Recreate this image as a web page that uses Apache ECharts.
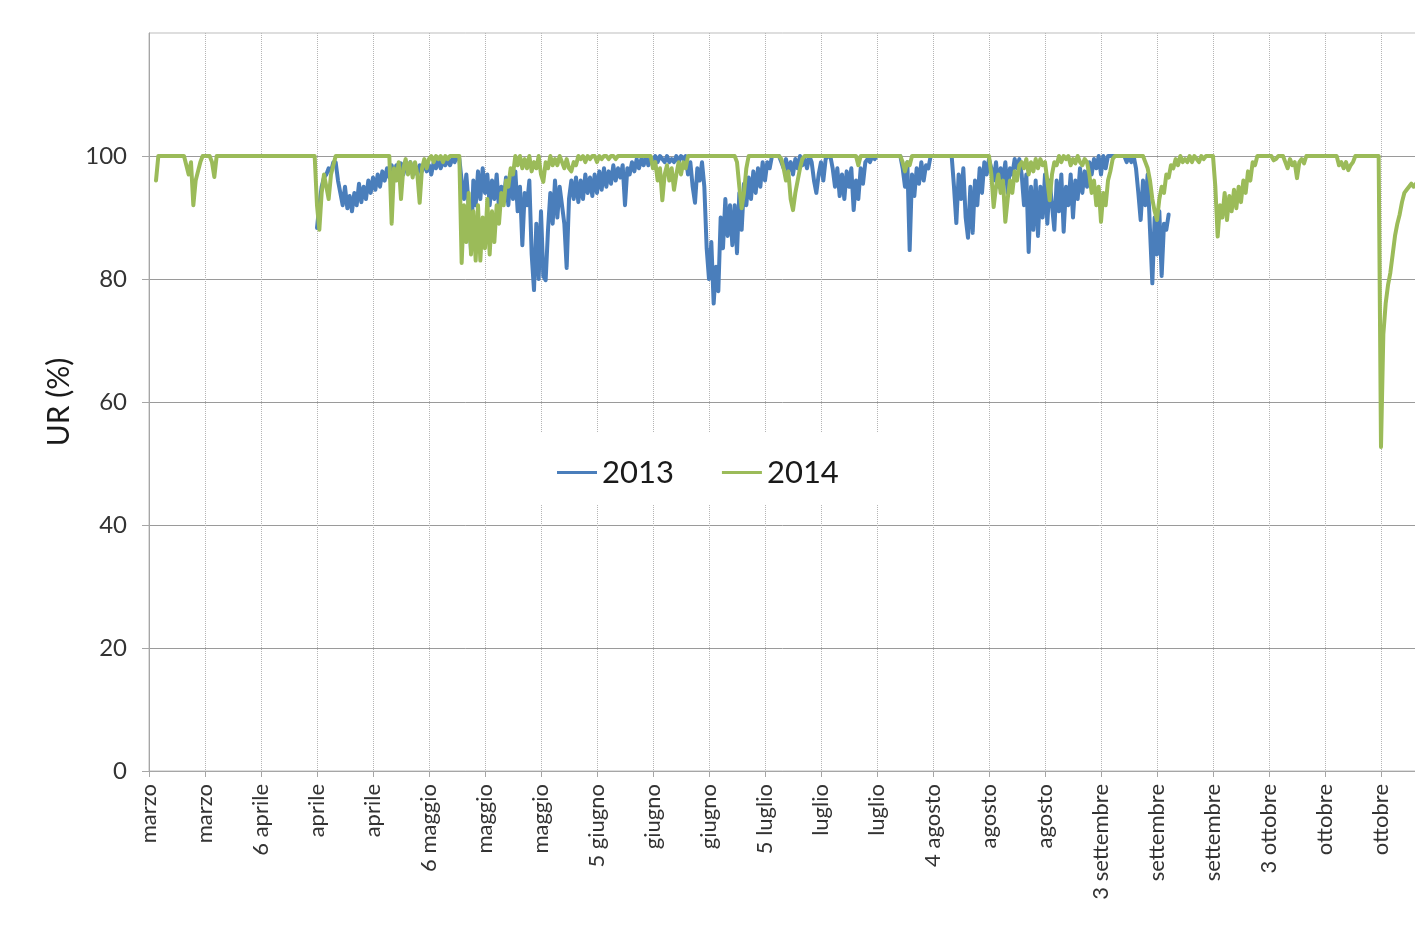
<!DOCTYPE html>
<html>
<head>
<meta charset="utf-8">
<script src="https://cdn.jsdelivr.net/npm/echarts@6/dist/echarts.min.js"></script>
<style>
  html, body { margin: 0; padding: 0; background: #fff; }
  #chart { width: 1415px; height: 931px; }
</style>
</head>
<body>
<div id="chart"></div>
<script>
// Relative humidity (UR %), one reading every 6 hours; day 0 = first tick.
const STEP_DAYS = 0.25;
const TICK_DAYS = 6;

const tickLabels = [
  'marzo', 'marzo', '6 aprile', 'aprile', 'aprile', '6 maggio', 'maggio', 'maggio',
  '5 giugno', 'giugno', 'giugno', '5 luglio', 'luglio', 'luglio', '4 agosto', 'agosto',
  'agosto', '3 settembre', 'settembre', 'settembre', '3 ottobre', 'ottobre', 'ottobre', 'ottobre'
];

// 2013: first reading on day 18; each row holds 6 days
const start2013 = 18;
const ur2013 = [
  88.3, 92, 95, 96.5, 97, 98, 97.5, 99, 99, 96, 94, 92, 95, 91.5, 93.5, 91, 94, 92, 95.5, 92.5, 95, 93, 96, 94,
  96.5, 94.5, 97, 95, 97.5, 96, 98, 96.5, 98.5, 97, 98.5, 97.5, 98.8, 97, 98.5, 97.5, 99, 97.5, 98.5, 97, 98.5, 97.5, 99, 97.5,
  98.5, 97, 99, 98, 99.5, 98, 99, 98.5, 99.5, 98.5, 99.5, 99, 100, 99.5, 96, 93, 97, 92, 84.7, 96, 92, 97.5, 93, 98,
  94, 97, 92, 96, 93, 97, 91.5, 95, 92.5, 96.5, 92, 97, 93, 97.5, 91, 95, 85.5, 94, 92, 96, 84, 78.2, 89, 80,
  91, 80.5, 79.8, 88, 94, 89, 96, 90, 95, 92, 89, 81.8, 93, 96, 93, 96.5, 92.5, 96, 93, 97, 94, 96.5, 93.5, 97,
  94, 97.5, 94.5, 98, 95, 97.5, 95.5, 98.5, 96, 98, 96.5, 98.5, 92, 98, 97, 99, 97.5, 99.5, 98, 99.5, 98.5, 100, 98.5, 99.5,
  99, 100, 99, 100, 99.5, 99, 100, 99, 99.5, 99, 100, 99, 100, 99.5, 100, 97, 99, 95, 92.4, 98, 96, 99, 95, 85,
  80, 86, 76, 82, 78, 90, 85, 93, 87, 92, 85.5, 92, 84.2, 94, 88, 95.5, 92, 96.5, 93, 97.5, 94, 98, 95, 99,
  96, 99, 98, 100, 100, 100, 100, 99, 98, 99.5, 97.5, 99, 97, 99.5, 98, 100, 98.5, 99.5, 98, 100, 99, 96, 94, 97,
  99, 96, 99.5, 100, 100, 98, 95, 98, 93.5, 97, 93, 97.5, 95, 98, 91.2, 96, 93, 98, 95.5, 99, 99.5, 99, 100, 99.5,
  100, 100, 100, 100, 100, 100, 100, 100, 100, 100, 100, 98, 95, 99, 84.7, 97, 93.5, 98, 95.5, 99, 96, 98.5, 98, 100,
  100, 100, 100, 100, 100, 100, 100, 100, 100, 95, 89.1, 97, 93, 98, 90, 86.7, 95, 87.5, 96, 92, 98, 94, 99, 97,
  99.5, 98, 96, 99, 95, 98, 96, 99, 94, 98, 97, 99.5, 98, 99.5, 97, 92, 97, 84.4, 95, 88, 96, 87, 95, 90,
  97, 89, 96, 92, 88, 96, 91, 97, 87.7, 95, 92, 97, 90, 96, 93, 98, 94, 97.5, 95, 99, 97, 99.5, 98, 100,
  97, 100, 98, 100, 100, 100, 100, 100, 100, 100, 100, 99, 100, 99, 100, 98, 94, 89.6, 96, 92, 97, 88, 79.3, 90,
  84, 91, 80.5, 89, 88, 90.5
];

// 2014: first reading on day 0; each row holds 6 days
const start2014 = 0;
const ur2014 = [
  null, null, null, 96, 100, 100, 100, 100, 100, 100, 100, 100, 100, 100, 100, 100, 98.5, 97, 99, 92, 96, 97.5, 99, 100,
  100, 100, 100, 99, 96.6, 100, 100, 100, 100, 100, 100, 100, 100, 100, 100, 100, 100, 100, 100, 100, 100, 100, 100, 100,
  100, 100, 100, 100, 100, 100, 100, 100, 100, 100, 100, 100, 100, 100, 100, 100, 100, 100, 100, 100, 100, 100, 100, 100,
  92, 88, 94, 97, 95, 93, 97, 98.5, 100, 100, 100, 100, 100, 100, 100, 100, 100, 100, 100, 100, 100, 100, 100, 100,
  100, 100, 100, 100, 100, 100, 100, 100, 89, 98, 96, 99, 93, 98, 99.5, 97, 99, 96.5, 99, 97, 92.4, 98, 99.5, 98,
  99.5, 100, 99, 100, 99.5, 100, 99, 100, 99.5, 100, 100, 100, 100, 100, 82.6, 92, 86, 94, 84, 91, 83, 92, 83, 90,
  85, 93, 84, 91, 86, 92, 89, 94, 92, 96, 95, 98, 97, 100, 98.5, 100, 98, 99.5, 98, 100, 97.5, 99, 98, 100,
  97, 95.8, 99, 98, 100, 98.5, 99.5, 98.5, 100, 99, 98, 99.5, 98, 97.5, 99, 98.5, 100, 99.5, 100, 99, 100, 99.5, 100, 100,
  99, 100, 99.5, 100, 100, 99.5, 100, 100, 99.5, 100, 100, 100, 100, 100, 100, 100, 100, 100, 100, 100, 100, 100, 100, 100,
  98, 99, 96, 98, 92.8, 97, 98.5, 96, 98, 94.5, 97, 99, 97, 99, 98, 100, 100, 100, 100, 100, 100, 100, 100, 100,
  100, 100, 100, 100, 100, 100, 100, 100, 100, 100, 100, 100, 99, 95, 91.5, 94, 98, 100, 100, 100, 100, 100, 100, 100,
  100, 100, 100, 100, 100, 100, 100, 99.5, 98, 96, 97.5, 93, 91.2, 94, 96, 98, 99.5, 100, 100, 100, 100, 100, 100, 100,
  100, 100, 100, 100, 100, 100, 100, 100, 100, 100, 100, 100, 100, 100, 100, 100, 98.5, 100, 100, 100, 100, 100, 100, 100,
  100, 100, 100, 100, 100, 100, 100, 100, 100, 100, 100, 99, 97.5, 99, 98.5, 100, 100, 100, 100, 100, 100, 100, 100, 100,
  100, 100, 100, 100, 100, 100, 100, 100, 100, 100, 100, 100, 100, 100, 100, 100, 100, 100, 100, 100, 100, 100, 100, 100,
  100, 97, 91.7, 95, 97, 94, 96, 89.3, 93, 96, 94, 97.5, 96, 98.5, 99, 98, 99.5, 97, 99, 97.5, 99.5, 98, 99.5, 98.5,
  99, 96, 92.8, 97, 99, 98.5, 100, 99, 100, 99.5, 100, 98.5, 99.5, 98.8, 100, 99, 98.5, 99.5, 99, 97, 94, 96, 92, 95,
  89.3, 94, 92, 96, 97.5, 99.5, 100, 100, 100, 100, 100, 100, 100, 100, 100, 100, 100, 100, 100, 99, 98, 96, 93, 91,
  89.6, 93, 95, 94, 97, 96.5, 98.5, 98, 99.5, 98.5, 100, 99, 99.5, 99, 100, 99, 100, 99.5, 99, 100, 99.5, 100, 100, 100,
  100, 95, 86.9, 92, 90, 94, 89.6, 93.5, 91, 94.5, 91.5, 95, 92.5, 96, 94, 97.5, 96, 99, 98.5, 100, 100, 100, 100, 100,
  100, 100, 99.3, 99.5, 100, 100, 100, 99, 98, 99.5, 98.5, 99, 96.4, 99, 99.5, 98.8, 100, 100, 100, 100, 100, 100, 100, 100,
  100, 100, 100, 100, 100, 100, 98.5, 99, 98, 99, 97.7, 98.5, 99, 100, 100, 100, 100, 100, 100, 100, 100, 100, 100, 100,
  52.7, 71, 76, 79, 81, 84, 87, 89, 90.5, 92.5, 94, 94.5, 95, 95.5, 95, 95.5
];

const yTicks = [0, 20, 40, 60, 80, 100];

function toPairs(startDay, values) {
  return values.map((v, i) => [startDay + i * STEP_DAYS, v]);
}

const BLUE = '#4a7ebb';
const GREEN = '#9bbb59';

const chart = echarts.init(document.getElementById('chart'), null, { renderer: 'canvas' });

chart.setOption({
  animation: false,
  backgroundColor: '#ffffff',
  textStyle: { fontFamily: 'Lato, "Open Sans", sans-serif' },
  grid: {
    left: 149, top: 33, width: 1344, bottom: 160,
    outerBoundsMode: 'none',
    containLabel: false,
    show: true, borderColor: '#bdbdbd', borderWidth: 1
  },
  legend: {
    data: ['2013', '2014'],
    left: 537, top: 433,
    padding: [24, 44, 16, 20],
    backgroundColor: '#ffffff',
    icon: 'rect',
    itemWidth: 40, itemHeight: 3,
    itemGap: 48,
    textStyle: { fontSize: 31, color: '#1a1a1a', fontFamily: 'Lato' }
  },
  xAxis: {
    type: 'value',
    min: 0, max: tickLabels.length * TICK_DAYS, interval: TICK_DAYS,
    axisLine: { show: true, lineStyle: { color: '#a6a6a6', width: 1 } },
    axisTick: { show: true, length: 6, lineStyle: { color: '#a6a6a6' } },
    axisLabel: {
      rotate: 90, fontSize: 22, color: '#333333', margin: 13,
      formatter: v => tickLabels[Math.round(v / TICK_DAYS)] || ''
    },
    splitLine: { show: true, lineStyle: { type: 'dotted', color: '#b5b5b5', width: 1 } }
  },
  yAxis: {
    type: 'value',
    min: 0, max: 120, interval: 20,
    name: 'UR (%)', nameLocation: 'middle', nameRotate: 90, nameGap: 70,
    nameTextStyle: { fontSize: 30, color: '#1a1a1a' },
    axisLine: { show: true, lineStyle: { color: '#a6a6a6' } },
    axisTick: { show: true, length: 7, lineStyle: { color: '#a6a6a6' }, customValues: yTicks },
    axisLabel: { fontSize: 24, color: '#333333', margin: 22, customValues: yTicks },
    splitLine: { show: true, lineStyle: { color: '#9a9a9a', width: 1 } }
  },
  series: [
    {
      name: '2013', type: 'line',
      data: toPairs(start2013, ur2013),
      showSymbol: false, symbol: 'none',
      color: BLUE,
      lineStyle: { width: 4, color: BLUE, join: 'round', cap: 'round' }
    },
    {
      name: '2014', type: 'line',
      data: toPairs(start2014, ur2014),
      showSymbol: false, symbol: 'none',
      color: GREEN,
      lineStyle: { width: 4, color: GREEN, join: 'round', cap: 'round' }
    }
  ]
});
</script>
</body>
</html>
